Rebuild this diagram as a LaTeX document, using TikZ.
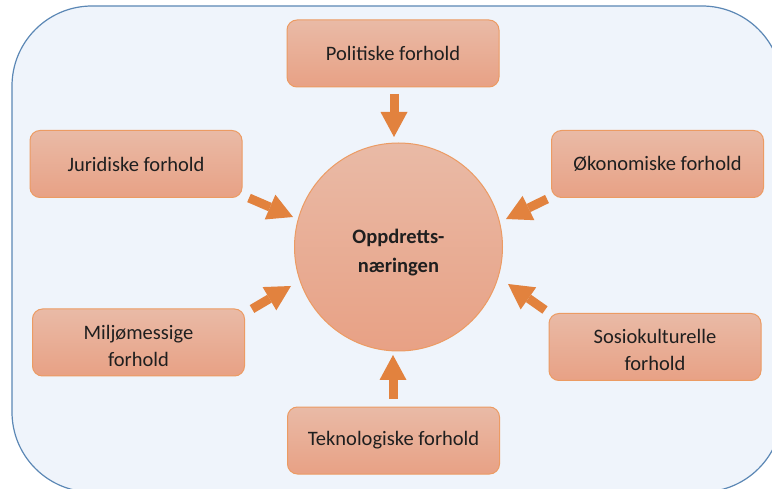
\documentclass[tikz,border=0pt]{standalone}
\usepackage{fontspec}
\setmainfont{Carlito}
\usetikzlibrary{arrows.meta}
\definecolor{bgfill}{HTML}{EFF4FB}
\definecolor{bgline}{HTML}{5B87B5}
\definecolor{boxtop}{HTML}{E9BAA6}
\definecolor{boxbot}{HTML}{E8A185}
\definecolor{boxline}{HTML}{EC9B63}
\definecolor{arrowc}{HTML}{E2823E}
\definecolor{txt}{HTML}{1F1F1F}
% two centred lines, set a little lower than the box centre
\newcommand{\twolines}[2]{\raisebox{-5pt}[\height][\depth]{\begin{tabular}{@{}c@{}}#1\\#2\end{tabular}}}
\tikzset{
  factor/.style={draw=boxline, line width=1pt, rounded corners=10pt,
    top color=boxtop, bottom color=boxbot,
    minimum width=212pt, minimum height=67pt, inner sep=0pt,
    align=center, text=txt, font=\fontsize{20.5}{27}\selectfont},
  core/.style={circle, draw=boxline, line width=1pt,
    top color=boxtop, bottom color=boxbot, minimum size=208pt, inner sep=0pt},
  coretext/.style={align=center, text=txt, inner sep=0pt,
    font=\bfseries\fontsize{20.5}{29}\selectfont},
  push/.style={draw=arrowc, line width=9pt,
    -{Triangle[width=27pt,length=25pt,line width=0pt]}}
}
\begin{document}
\begin{tikzpicture}[x=1pt,y=-1pt]
  \clip (0,0) rectangle (772,489);
  \fill[white] (0,0) rectangle (772,489);
  % rounded panel behind everything
  \draw[bgline, fill=bgfill, line width=1.2pt, rounded corners=80pt]
    (12,6) rectangle (782,492);

  % central circle and its title
  \node[core] (core) at (398.5,247) {};
  \node[coretext] (coretxt) at (398.5,253) {Oppdretts-\\næringen};

  % surrounding factors
  \node[factor] (pol) at (393,53.5) {Politiske forhold};
  \node[factor] (jur) at (136,164) {Juridiske forhold};
  \node[factor] (oko) at (657.5,164) {Økonomiske forhold};
  \node[factor] (mil) at (138.5,342.5) {\twolines{Miljømessige}{forhold}};
  \node[factor] (sos) at (655,347) {\twolines{Sosiokulturelle}{forhold}};
  \node[factor] (tek) at (393.5,440.5) {Teknologiske forhold};

  % arrow tails and tips
  \coordinate (polT) at (394,94);   \coordinate (polH) at (394,137);
  \coordinate (tekT) at (393,399);  \coordinate (tekH) at (393,355);
  \coordinate (jurT) at (249,198);  \coordinate (jurH) at (293,217);
  \coordinate (milT) at (252,309);  \coordinate (milH) at (291,286);
  \coordinate (okoT) at (547,199);  \coordinate (okoH) at (506,219);
  \coordinate (sosT) at (545,310);  \coordinate (sosH) at (508,284);

  \draw[push] (polT) -- (polH);
  \draw[push] (tekT) -- (tekH);
  \draw[push] (jurT) -- (jurH);
  \draw[push] (milT) -- (milH);
  \draw[push] (okoT) -- (okoH);
  \draw[push] (sosT) -- (sosH);
\end{tikzpicture}
\end{document}
